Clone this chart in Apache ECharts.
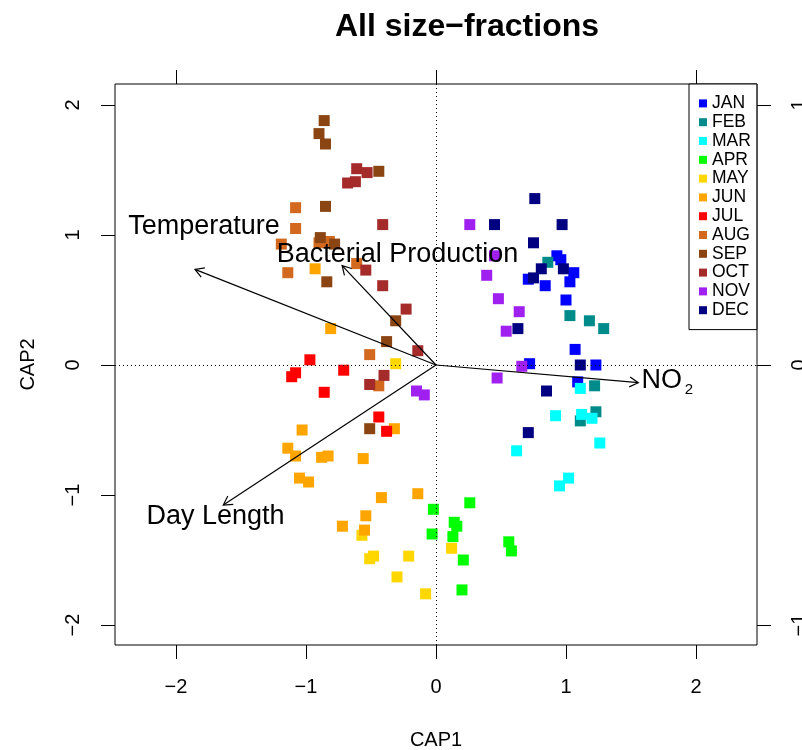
<!DOCTYPE html>
<html>
<head>
<meta charset="utf-8">
<script src="https://cdn.jsdelivr.net/npm/echarts@6/dist/echarts.min.js"></script>
<style>
  html, body { margin: 0; padding: 0; background: #fff; }
  #chart { width: 802px; height: 750px; }
</style>
</head>
<body>
<div id="chart"></div>
<script>
// samples per month (CAP1, CAP2)
const months = ['JAN', 'FEB', 'MAR', 'APR', 'MAY', 'JUN', 'JUL', 'AUG', 'SEP', 'OCT', 'NOV', 'DEC'];
const monthColors = ['#0000FF', '#008B8B', '#00FFFF', '#00FF00', '#FFD700', '#FFA500',
  '#FF0000', '#D2691E', '#8B4513', '#A52A2A', '#A020F0', '#000080'];

const janPts = [[0.93, 0.84], [0.96, 0.81], [1.06, 0.71], [0.71, 0.66], [0.84, 0.61], [1.03, 0.64],
  [1.00, 0.50], [1.07, 0.12], [0.72, 0.01], [1.23, 0.00], [1.09, -0.13]];
const febPts = [[0.86, 0.79], [1.03, 0.38], [1.18, 0.34], [1.29, 0.28], [1.22, -0.16], [1.23, -0.36], [1.11, -0.43]];
const marPts = [[1.11, -0.18], [0.92, -0.39], [1.12, -0.38], [1.20, -0.41], [1.26, -0.60], [0.62, -0.66],
  [1.02, -0.87], [0.95, -0.93]];
const aprPts = [[-0.02, -1.11], [0.26, -1.06], [0.14, -1.21], [0.16, -1.24], [-0.03, -1.30], [0.13, -1.32],
  [0.21, -1.50], [0.20, -1.73], [0.56, -1.36], [0.58, -1.43]];
const mayPts = [[-0.31, 0.01], [-0.57, -1.31], [-0.51, -1.49], [-0.48, -1.47], [-0.21, -1.47], [-0.30, -1.63],
  [-0.08, -1.76], [0.12, -1.41]];
const junPts = [[-0.93, 0.74], [-0.81, 0.28], [-0.32, -0.49], [-1.03, -0.50], [-1.14, -0.64], [-1.08, -0.70],
  [-0.88, -0.71], [-0.83, -0.70], [-0.56, -0.72], [-1.05, -0.87], [-0.98, -0.90], [-0.42, -1.02],
  [-0.14, -0.99], [-0.54, -1.16], [-0.72, -1.24], [-0.55, -1.27]];
const julPts = [[-0.97, 0.04], [-1.08, -0.06], [-1.11, -0.09], [-0.71, -0.04], [-0.86, -0.21], [-0.44, -0.40], [-0.38, -0.51]];
const augPts = [[-1.08, 1.21], [-1.08, 1.05], [-1.19, 0.93], [-0.90, 0.94], [-0.82, 0.95], [-0.61, 0.78],
  [-1.14, 0.71], [-0.51, 0.08], [-0.44, -0.16]];
const sepPts = [[-0.86, 1.88], [-0.90, 1.78], [-0.85, 1.70], [-0.44, 1.49], [-0.85, 1.22], [-0.89, 0.98],
  [-0.78, 0.93], [-0.84, 0.64], [-0.31, 0.34], [-0.38, 0.18], [-0.51, -0.49]];
const octPts = [[-0.61, 1.51], [-0.53, 1.48], [-0.68, 1.40], [-0.62, 1.41], [-0.41, 1.08], [-0.54, 0.73],
  [-0.41, 0.61], [-0.23, 0.43], [-0.14, 0.11], [-0.40, -0.08], [-0.51, -0.15]];
const novPts = [[0.26, 1.08], [0.45, 0.84], [0.39, 0.69], [0.48, 0.51], [0.64, 0.41], [0.54, 0.26],
  [0.66, -0.01], [0.47, -0.10], [-0.15, -0.20], [-0.09, -0.23]];
const decPts = [[0.76, 1.28], [0.45, 1.08], [0.97, 1.08], [0.75, 0.94], [0.81, 0.74], [0.98, 0.74],
  [0.75, 0.67], [0.63, 0.28], [1.11, 0.00], [0.85, -0.20], [0.71, -0.52]];

const monthPts = [janPts, febPts, marPts, aprPts, mayPts, junPts, julPts, augPts, sepPts, octPts, novPts, decPts];

// environmental vectors (arrow tips) and where their labels sit
const vectorNames = ['Temperature', 'Bacterial Production', 'Day Length', 'NO', '2'];
const vectorTips = [[-1.854, 0.736], [-0.722, 0.764], [-1.636, -1.077], [1.556, -0.136]];
const labelAnchors = [[-1.785, 1.064], [-0.296, 0.852], [-1.696, -1.162], [1.736, -0.123], [1.945, -0.195]];

const xTicks = [-2, -1, 0, 1, 2];
const yTicks = [-2, -1, 0, 1, 2];
const topTicks = [-1, 0, 1];
const rightTicks = [-1, 0, 1];

const FONT = 'Liberation Sans, Arial, Helvetica, sans-serif';
const minus = v => String(v).replace('-', '\u2212');

const chart = echarts.init(document.getElementById('chart'));

function renderArrow(params, api) {
  const o = api.coord([0, 0]);
  const t = api.coord([api.value(0), api.value(1)]);
  const ang = Math.atan2(t[1] - o[1], t[0] - o[0]);
  const L = 10, a = Math.PI / 6;
  const h1 = [t[0] - L * Math.cos(ang - a), t[1] - L * Math.sin(ang - a)];
  const h2 = [t[0] - L * Math.cos(ang + a), t[1] - L * Math.sin(ang + a)];
  return {
    type: 'group',
    children: [
      { type: 'line', shape: { x1: o[0], y1: o[1], x2: t[0], y2: t[1] }, style: { stroke: '#000', lineWidth: 1.2 } },
      { type: 'polyline', shape: { points: [h1, t, h2] }, style: { stroke: '#000', fill: null, lineWidth: 1.2 } }
    ]
  };
}

function renderLabel(params, api) {
  const p = api.coord([api.value(0), api.value(1)]);
  const idx = params.dataIndex;
  return {
    type: 'text',
    x: p[0],
    y: p[1],
    style: {
      text: vectorNames[idx],
      fontSize: idx === 4 ? 15 : 27,
      fontFamily: FONT,
      fill: '#000',
      textAlign: 'center',
      textVerticalAlign: 'middle'
    }
  };
}

const series = months.map((m, i) => ({
  name: m,
  type: 'scatter',
  symbol: 'rect',
  symbolSize: 11,
  data: monthPts[i],
  itemStyle: { color: monthColors[i], opacity: 1 },
  emphasis: { disabled: true },
  z: 3
}));

series.unshift({
  name: 'zero',
  type: 'line',
  data: [],
  z: 1,
  markLine: {
    silent: true,
    symbol: 'none',
    label: { show: false },
    lineStyle: { color: '#000', type: [1, 3], width: 1 },
    data: [{ xAxis: 0 }, { yAxis: 0 }]
  }
});

series.push({
  name: 'vectors',
  type: 'custom',
  renderItem: renderArrow,
  data: vectorTips,
  clip: false,
  z: 5
});
series.push({
  name: 'vectorLabels',
  type: 'custom',
  renderItem: renderLabel,
  data: labelAnchors,
  clip: false,
  z: 6
});

const tickStyle = { show: true, length: 14, lineStyle: { color: '#000', width: 1 } };
const noLine = { show: false, onZero: false };

chart.setOption({
  animation: false,
  backgroundColor: '#fff',
  graphic: [{
    type: 'text',
    x: 467,
    y: 27,
    style: {
      text: 'All size\u2212fractions',
      fontSize: 32,
      fontWeight: 'bold',
      fontFamily: FONT,
      fill: '#000',
      textAlign: 'center',
      textVerticalAlign: 'middle'
    }
  }],
  grid: {
    left: 115,
    right: 45,
    top: 84,
    bottom: 105,
    show: true,
    borderColor: '#000',
    borderWidth: 1,
    backgroundColor: 'transparent',
    containLabel: false,
    outerBoundsMode: 'none'
  },
  legend: {
    data: months,
    orient: 'vertical',
    left: 689,
    top: 84,
    icon: 'rect',
    itemWidth: 8,
    itemHeight: 8,
    itemGap: 0,
    padding: [10, 6, 10, 10],
    borderColor: '#000',
    borderWidth: 1,
    backgroundColor: '#fff',
    selectedMode: false,
    textStyle: { fontSize: 17.5, lineHeight: 18.8, color: '#000', fontFamily: FONT }
  },
  xAxis: [{
    type: 'value',
    position: 'bottom',
    min: -2.4692,
    max: 2.4692,
    name: 'CAP1',
    nameLocation: 'middle',
    nameGap: 85,
    nameTextStyle: { fontSize: 20, color: '#000', fontFamily: FONT },
    axisLine: noLine,
    axisTick: Object.assign({ customValues: xTicks }, tickStyle),
    axisLabel: { customValues: xTicks, fontSize: 20, color: '#000', fontFamily: FONT, margin: 32, formatter: minus },
    splitLine: { show: false }
  }, {
    type: 'value',
    position: 'top',
    min: -1.2346,
    max: 1.2346,
    axisLine: noLine,
    axisTick: Object.assign({ customValues: topTicks }, tickStyle),
    axisLabel: { show: false },
    splitLine: { show: false }
  }],
  yAxis: [{
    type: 'value',
    position: 'left',
    min: -2.1538,
    max: 2.1615,
    name: 'CAP2',
    nameLocation: 'middle',
    nameGap: 77,
    nameRotate: 90,
    nameTextStyle: { fontSize: 20, color: '#000', fontFamily: FONT },
    axisLine: noLine,
    axisTick: Object.assign({ customValues: yTicks }, tickStyle),
    axisLabel: { customValues: yTicks, rotate: 90, fontSize: 20, color: '#000', fontFamily: FONT, margin: 32, formatter: minus },
    splitLine: { show: false }
  }, {
    type: 'value',
    position: 'right',
    min: -1.0769,
    max: 1.0808,
    axisLine: noLine,
    axisTick: Object.assign({ customValues: rightTicks }, tickStyle),
    axisLabel: { customValues: rightTicks, rotate: 90, fontSize: 20, color: '#000', fontFamily: FONT, margin: 32, formatter: minus },
    splitLine: { show: false }
  }],
  series: series
});
</script>
</body>
</html>
